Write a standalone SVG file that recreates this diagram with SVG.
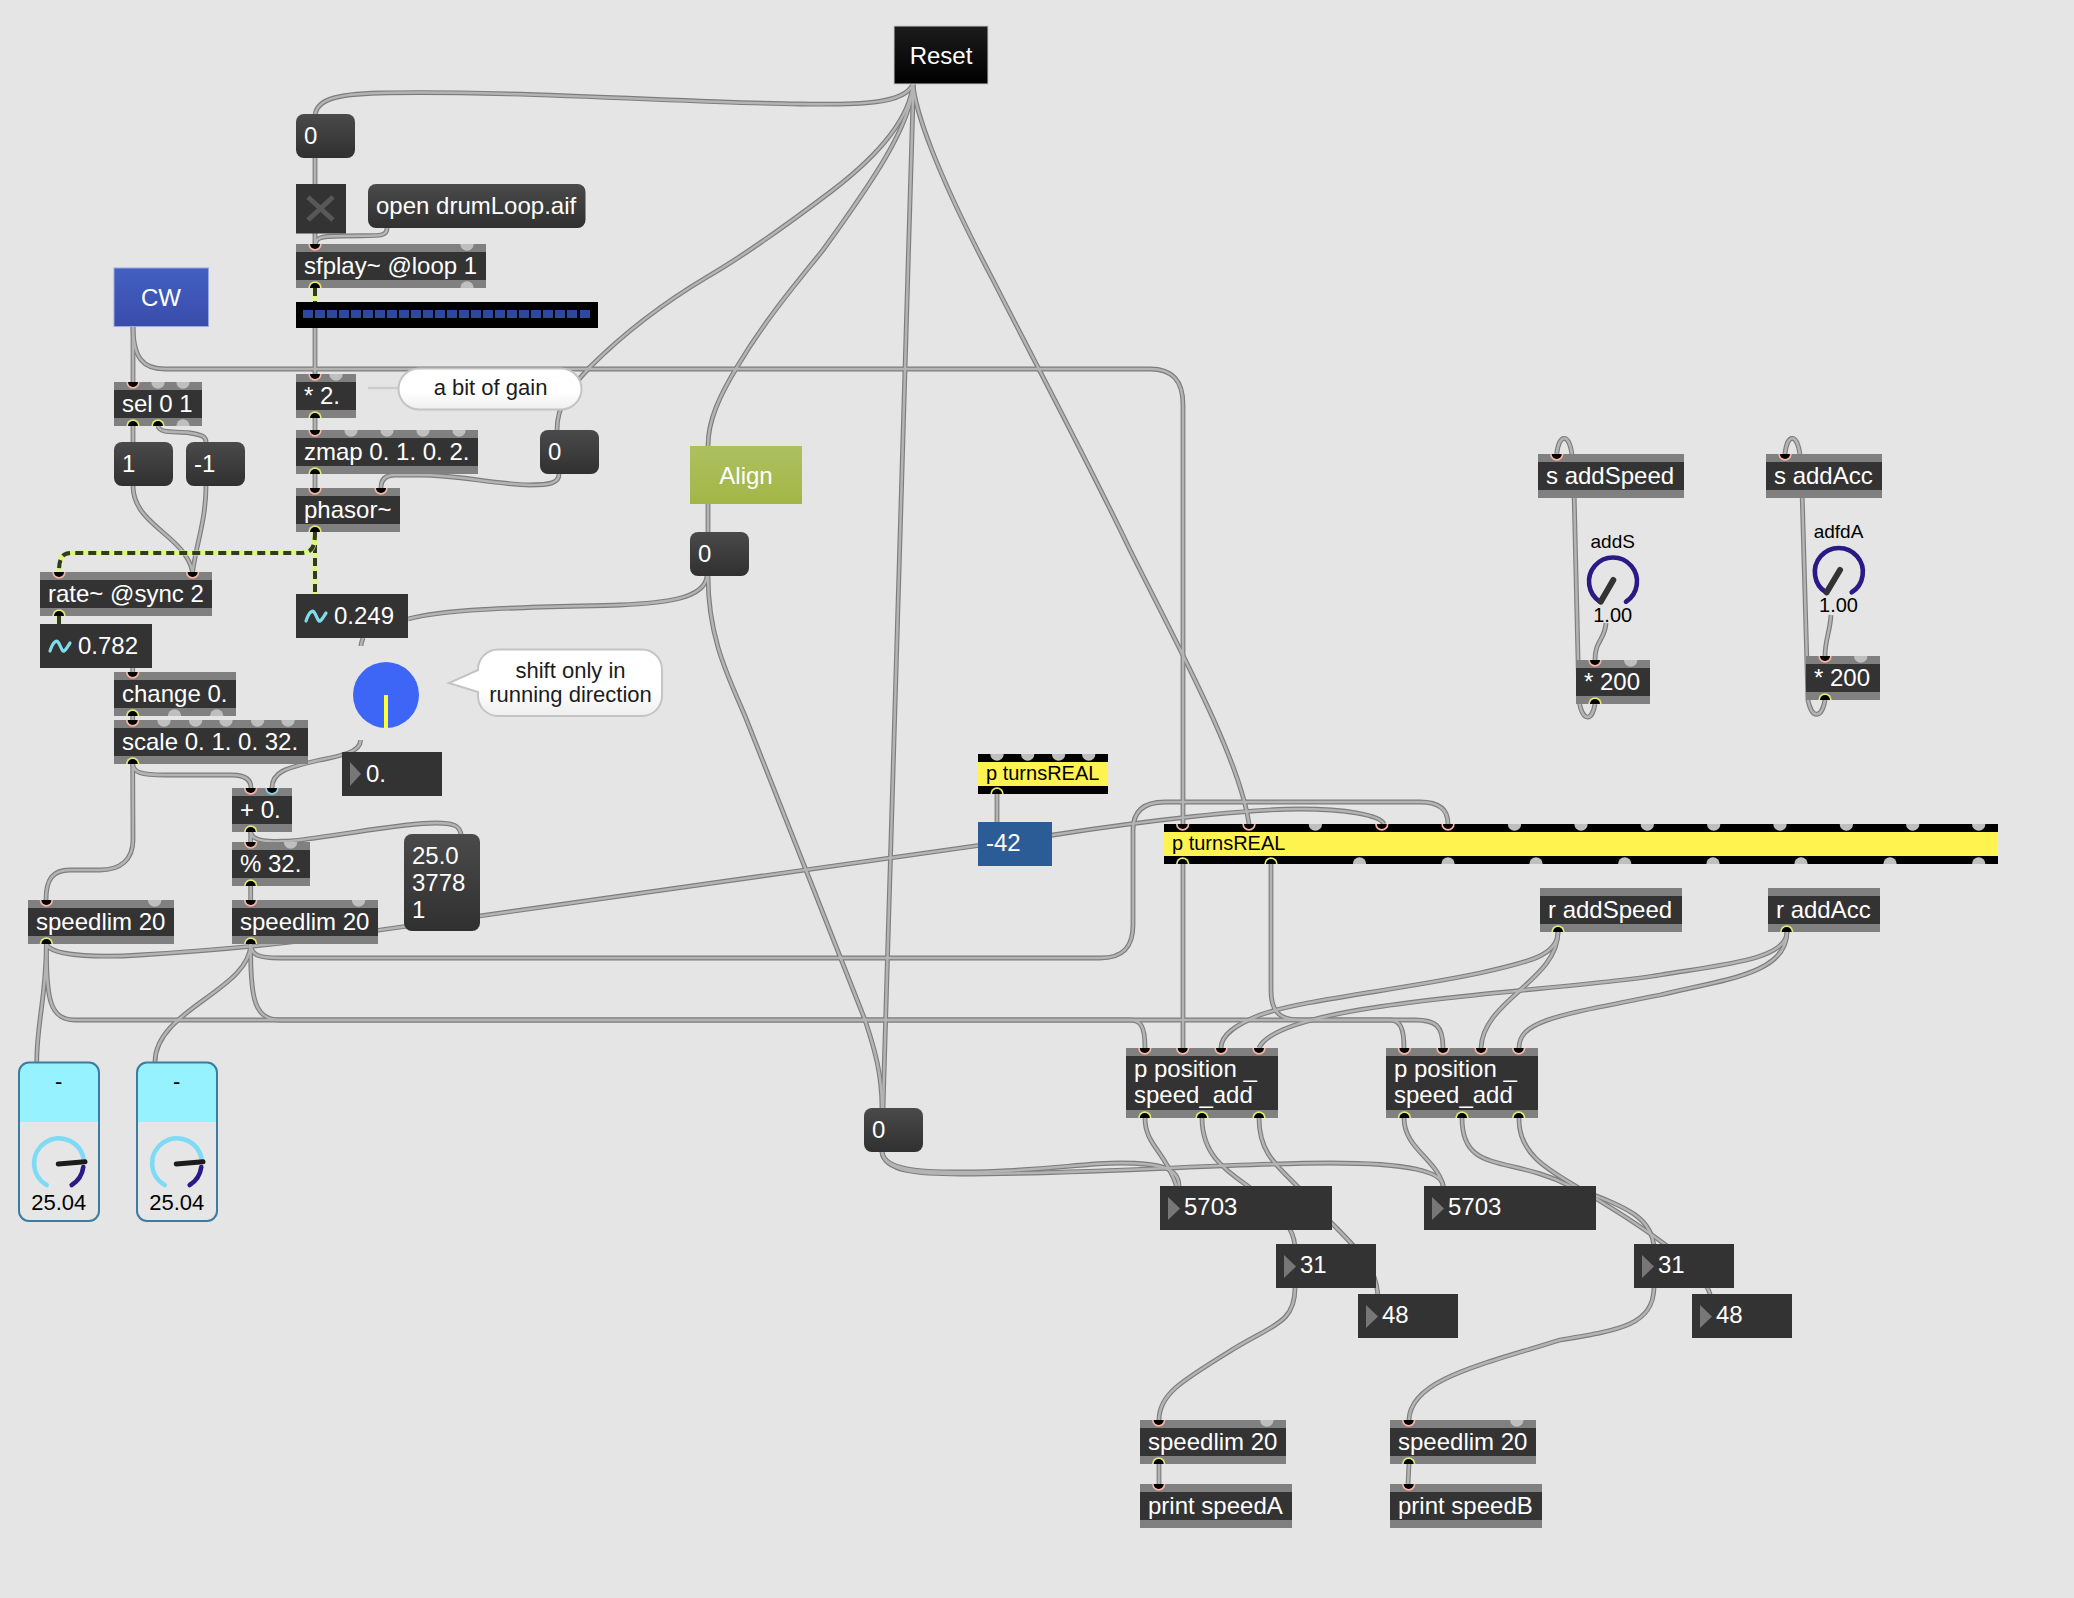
<svg xmlns="http://www.w3.org/2000/svg" xmlns:xlink="http://www.w3.org/1999/xlink" width="2074" height="1598" viewBox="0 0 2074 1598">
<style>
text{font-family:"Liberation Sans",Arial,sans-serif;font-size:24px;fill:#fff}
.bar{fill:#808080}.dk{fill:#333}.blk{fill:#000}.yl{fill:#fff44f}
.msg{fill:url(#gm)}
.cmt{fill:#1c1c1c;font-size:22px;text-anchor:middle}
.dl{fill:#000;font-size:19px;text-anchor:middle}
.mid{text-anchor:middle}
#connectors{fill:none;stroke:#7d7d7d;stroke-width:4.8;stroke-linecap:butt}
.ci{stroke:#b4b4b4;stroke-width:2.5}
.sy{fill:none;stroke:#dcf97e;stroke-width:5}
.sd{fill:none;stroke:#333a22;stroke-width:4;stroke-dasharray:8 5}
.tri{fill:#777}
.sine{fill:none;stroke:#7fdcea;stroke-width:3.2;stroke-linecap:round}
.arcD{fill:none;stroke:#2a1a85;stroke-width:4.6;stroke-linecap:round}
.arcL{fill:none;stroke:#7fdbf5;stroke-width:4.6;stroke-linecap:round}
.nd{fill:none;stroke:#1c1c1c;stroke-linecap:round}
.c{fill:url(#gc);stroke:#c4c4c4;stroke-width:2}
</style>
<defs>
<linearGradient id="gm" x1="0" y1="0" x2="0" y2="1"><stop offset="0" stop-color="#4a4a4a"/><stop offset="1" stop-color="#303030"/></linearGradient>
<linearGradient id="gc" x1="0" y1="0" x2="0" y2="1"><stop offset="0.6" stop-color="#fff"/><stop offset="1" stop-color="#eee"/></linearGradient>
<linearGradient id="gr" x1="0" y1="0" x2="0" y2="1"><stop offset="0" stop-color="#1c1c1c"/><stop offset="1" stop-color="#000"/></linearGradient>
<linearGradient id="gb" x1="0" y1="0" x2="0" y2="1"><stop offset="0" stop-color="#4260c2"/><stop offset="1" stop-color="#3a4cab"/></linearGradient>
<linearGradient id="ga" x1="0" y1="0" x2="0" y2="1"><stop offset="0" stop-color="#adc060"/><stop offset="1" stop-color="#a2b646"/></linearGradient>
<g id="i"><path d="M-6.700 0A6.700 6.700 0 0 0 6.700 0Z" fill="#f7b3a2"/><path d="M-5 0A5 5 0 0 0 5 0Z" fill="#000"/></g>
<g id="ib"><path d="M-6.700 0A6.700 6.700 0 0 0 6.700 0Z" fill="#8fd8ee"/><path d="M-5 0A5 5 0 0 0 5 0Z" fill="#000"/></g>
<g id="o"><path d="M-6.700 0A6.700 6.700 0 0 1 6.700 0Z" fill="#e4ea6e"/><path d="M-5 0A5 5 0 0 1 5 0Z" fill="#000"/></g>
<path id="ig" d="M-6.700 0A6.700 6.700 0 0 0 6.700 0Z" fill="#bfbfbf"/>
<path id="og" d="M-6.700 0A6.700 6.700 0 0 1 6.700 0Z" fill="#bfbfbf"/>
</defs>
<rect width="2074" height="1598" fill="#e5e5e5"/>

<g id="connectors">
<g id="cords">
<path d="M913 84C905 104 860 105 800 104C700 103 500 90 380 93C335 94 316 100 315 116"/>
<path d="M315 158L315 244"/>
<path d="M387 228C387 238 378 235 340 236C320 236 315 238 315 246"/>
<path d="M315 328L315 374"/>
<path d="M315 418L315 430"/>
<path d="M315 474L315 488"/>
<path d="M133 326L133 382"/>
<path d="M133 326C133 358 143 369 165 369L1150 369C1172 369 1183 380 1183 405L1183 1048"/>
<path d="M913 84C910 115 885 150 833 190C800 215 745 255 707 277C660 305 625 332 590 367C570 388 557 405 557 430"/>
<path d="M913 84C912 125 870 185 823 250C795 285 765 320 737 367C720 395 708 420 708 446"/>
<path d="M913 84L913 100C908 300 890 850 883 1108"/>
<path d="M913 84C915 110 935 170 993 280C1040 372 1087 460 1130 550C1180 650 1240 760 1249 824"/>
<path d="M708 504L708 532"/>
<path d="M707 576C705 600 660 603 620 605C560 607 450 607 408 619"/>
<path d="M708 576C708 640 730 680 745 716C770 780 830 930 865 1020C875 1050 882 1075 882 1108"/>
<path d="M882 1152C884 1170 920 1172 960 1172C1040 1172 1080 1163 1120 1163C1160 1163 1179 1168 1179 1186"/>
<path d="M882 1152C884 1172 920 1174 960 1174C1100 1174 1230 1163 1330 1163C1410 1163 1443 1172 1443 1186"/>
<path d="M1145 1118C1145 1145 1165 1150 1178 1190"/>
<path d="M1202 1118C1202 1170 1250 1180 1270 1205C1290 1225 1295 1235 1295 1250"/>
<path d="M1259 1118C1259 1160 1285 1170 1310 1200C1350 1245 1378 1260 1378 1300"/>
<path d="M1404 1118C1404 1150 1440 1160 1444 1190"/>
<path d="M1462 1118C1462 1175 1510 1155 1570 1186C1620 1205 1654 1215 1654 1250"/>
<path d="M1519 1118C1518 1160 1560 1175 1590 1195C1640 1225 1710 1270 1711 1300"/>
<path d="M1295 1288C1295 1325 1270 1325 1227 1353C1180 1382 1159 1395 1159 1420"/>
<path d="M1654 1288C1653 1325 1620 1330 1560 1340C1480 1365 1410 1380 1409 1420"/>
<path d="M1159 1464L1159 1484"/>
<path d="M1409 1464L1408 1484"/>
<path d="M1558 932C1558 955 1530 962 1480 973C1400 990 1300 1000 1260 1015C1235 1025 1221 1035 1221 1048"/>
<path d="M1558 932C1558 980 1483 1000 1481 1048"/>
<path d="M1787 932C1787 960 1720 965 1660 975C1560 992 1280 1000 1259 1048"/>
<path d="M1787 932C1787 975 1720 980 1660 995C1560 1015 1519 1020 1519 1048"/>
<path d="M1271 864L1271 990C1271 1010 1278 1020 1300 1020L1415 1020C1435 1020 1443 1025 1443 1048"/>
<path d="M46.400 944C46 1000 37 1020 36.700 1062"/>
<path d="M46.400 944C46 1000 50 1020 75 1020L1130 1020C1140 1020 1145 1025 1145 1048"/>
<path d="M46.400 944C52 958 110 957 140 955C220 950 300 943 380 930L1053 835C1150 820 1250 809 1300 809C1345 809 1380 815 1384 824"/>
<path d="M250.700 944C250 990 155 1010 155 1062"/>
<path d="M250.700 944C251 955 258 958 280 958L1100 958C1125 958 1133 945 1133 925L1133 830C1133 810 1145 802 1165 802L1420 802C1440 802 1448 810 1448 824"/>
<path d="M250.700 944C250 1000 255 1020 280 1020L1390 1020C1400 1020 1404 1028 1404 1048"/>
<path d="M132.700 764C133 772 140 775 165 775L232 775C246 775 251 780 251 788"/>
<path d="M132.700 764L133 840C133 860 120 870 100 870L70 870C52 870 46 880 46 900"/>
<path d="M250.700 832L250.700 842"/>
<path d="M250.700 886L250.700 900"/>
<path d="M250.700 832C252 842 270 842 290 841C340 836 400 823 436 823C452 823 461 825 461 836"/>
<path d="M133 426L133 442"/>
<path d="M158 426C160 434 175 431 190 433C203 435 206 437 206 442"/>
<path d="M133 486C133 525 185 535 192.600 572"/>
<path d="M206 486C206 520 196 545 192.600 572"/>
<path d="M132.700 668L132.700 672"/>
<path d="M132.700 716L132.700 720"/>
<path d="M559 474C559 483 550 485 530 485C490 484 460 475 420 475L395 475C385 475 381 480 381 488"/>
<path d="M363 638C362 642 361 642 361 646"/>
<path d="M360.500 740C361 752 340 756 320 760C285 768 272 772 272 788"/>
<path d="M1595 704C1592 722 1582 722 1579 700L1574 490L1572 455C1569 432 1559 434 1556.700 454"/>
<path d="M1825 700C1822 718 1812 720 1808 700L1802 490L1800 455C1797 432 1787 434 1785 454"/>
<path d="M1606 623C1605 640 1595 640 1595 660"/>
<path d="M1831 615C1830 632 1825 640 1825 656"/>
<path d="M997 794L997 822"/>
</g>
<use xlink:href="#cords" href="#cords" class="ci"/>
<g id="signal-cords" style="stroke:none">
<path class="sy" d="M315 288L315 302"/><path class="sd" d="M315 288L315 302"/>
<path class="sy" d="M315 532L315 594"/><path class="sd" d="M315 532L315 594"/>
<path class="sy" d="M315 532C315 548 312 553 300 553L72 553C62 553 59 558 59 572"/><path class="sd" d="M315 532C315 548 312 553 300 553L72 553C62 553 59 558 59 572"/>
<path class="sy" d="M59 616L59 624"/><path class="sd" d="M59 616L59 624"/>
</g>
</g>

<g id="reset"><rect x="894" y="26" width="94" height="58" fill="url(#gr)" stroke="#ccc" stroke-width="1"/><text class="mid" x="941" y="64">Reset</text></g>
<g id="msg0a"><rect class="msg" x="296" y="114" width="59" height="44" rx="8"/><text x="304" y="144">0</text></g>
<g id="toggle"><rect class="dk" x="296" y="184" width="50" height="49.500"/><path d="M308 197L333 220M333 197L308 220" stroke="#585858" stroke-width="5" fill="none"/></g>
<g id="open"><rect class="msg" x="368" y="184" width="217.500" height="44" rx="8"/><text x="376" y="214">open drumLoop.aif</text></g>
<g id="sfplay"><rect class="bar" x="296" y="244" width="190" height="44"/><rect class="dk" x="296" y="252" width="190" height="28"/><text x="304" y="274">sfplay~ @loop 1</text><use href="#i" x="315" y="244"/><use href="#ig" x="467" y="244"/><use href="#o" x="315" y="288"/><use href="#og" x="467" y="288"/></g>
<g id="meter"><rect class="blk" x="296" y="302" width="302" height="26"/><line x1="303" y1="314" x2="577" y2="314" stroke="#2b4a9f" stroke-width="8" stroke-dasharray="10 2"/><rect x="580" y="310" width="10" height="8" fill="#2b4a9f"/></g>
<g id="cw"><rect x="114" y="268" width="94.500" height="58.500" fill="url(#gb)" stroke="#9aa8dd" stroke-width="1"/><text class="mid" x="161" y="306">CW</text></g>
<g id="sel"><rect class="bar" x="114" y="382" width="88" height="44"/><rect class="dk" x="114" y="390" width="88" height="28"/><text x="122" y="412">sel 0 1</text><use href="#i" x="133" y="382"/><use href="#ig" x="158" y="382"/><use href="#ig" x="183" y="382"/><use href="#o" x="133" y="426"/><use href="#o" x="158" y="426"/><use href="#og" x="183" y="426"/></g>
<g id="mul2"><rect class="bar" x="296" y="374" width="60" height="44"/><rect class="dk" x="296" y="382" width="60" height="28"/><text x="304" y="404">* 2.</text><use href="#i" x="315" y="374"/><use href="#ig" x="336" y="374"/><use href="#o" x="315" y="418"/></g>
<g id="gain"><path d="M368 388L400 388" stroke="#ccc" stroke-width="2.500" fill="none"/><rect class="c" x="398.500" y="368.500" width="183" height="41" rx="20.500"/><text class="cmt" x="490.500" y="395">a bit of gain</text></g>
<g id="zmap"><rect class="bar" x="296" y="430" width="182" height="44"/><rect class="dk" x="296" y="438" width="182" height="28"/><text x="304" y="460">zmap 0. 1. 0. 2.</text><use href="#i" x="315" y="430"/><use href="#ig" x="351" y="430"/><use href="#ig" x="387" y="430"/><use href="#ig" x="423" y="430"/><use href="#ig" x="459" y="430"/><use href="#o" x="315" y="474"/></g>
<g id="msg0b"><rect class="msg" x="540" y="430" width="59" height="44" rx="8"/><text x="548" y="460">0</text></g>
<g id="phasor"><rect class="bar" x="296" y="488" width="104" height="44"/><rect class="dk" x="296" y="496" width="104" height="28"/><text x="304" y="518">phasor~</text><use href="#i" x="315" y="488"/><use href="#i" x="381" y="488"/><use href="#o" x="315" y="532"/></g>
<g id="msg1"><rect class="msg" x="114" y="442" width="59" height="44" rx="8"/><text x="122" y="472">1</text></g>
<g id="msgm1"><rect class="msg" x="186" y="442" width="59" height="44" rx="8"/><text x="194" y="472">-1</text></g>
<g id="rate"><rect class="bar" x="40" y="572" width="172" height="44"/><rect class="dk" x="40" y="580" width="172" height="28"/><text x="48" y="602">rate~ @sync 2</text><use href="#i" x="59" y="572"/><use href="#i" x="192.600" y="572"/><use href="#o" x="59" y="616"/></g>
<g id="align"><rect x="690" y="446" width="112" height="58" fill="url(#ga)"/><text class="mid" x="746" y="484">Align</text></g>
<g id="msg0c"><rect class="msg" x="690" y="532" width="59" height="44" rx="8"/><text x="698" y="562">0</text></g>
<g id="snap1"><rect class="dk" x="296" y="594" width="112" height="44"/><path class="sine" d="M306 621C309 612 312 610 314 612C317 616 318 622 320 621C322 620 324 616 326 613"/><text x="334" y="624">0.249</text></g>
<g id="snap2"><rect class="dk" x="40" y="624" width="112" height="44"/><path class="sine" d="M50 651C53 642 56 640 58 642C61 646 62 652 64 651C66 650 68 646 70 643"/><text x="78" y="654">0.782</text></g>
<g id="change"><rect class="bar" x="114" y="672" width="122" height="44"/><rect class="dk" x="114" y="680" width="122" height="28"/><text x="122" y="702">change 0.</text><use href="#i" x="132.700" y="672"/><use href="#o" x="132.700" y="716"/><use href="#og" x="174.500" y="716"/><use href="#og" x="216.700" y="716"/></g>
<g id="scale"><rect class="bar" x="114" y="720" width="194" height="44"/><rect class="dk" x="114" y="728" width="194" height="28"/><use href="#i" x="132.700" y="720"/><use href="#ig" x="164" y="720"/><use href="#ig" x="195.600" y="720"/><use href="#ig" x="226" y="720"/><use href="#ig" x="257.600" y="720"/><use href="#ig" x="288" y="720"/><use href="#o" x="132.700" y="764"/><text x="122" y="750">scale 0. 1. 0. 32.</text></g>
<g id="dial"><circle cx="386" cy="695" r="33" fill="#3d66f7"/><rect x="384" y="695" width="4" height="33" fill="#ffff33"/></g>
<g id="shift"><path class="c" d="M498 649.500L642 649.500A20 20 0 0 1 662 669.500L662 696A20 20 0 0 1 642 716L498 716A20 20 0 0 1 478 696L478 692L449 683L478 670L478 669.500A20 20 0 0 1 498 649.500Z"/><text class="cmt" x="570.500" y="677.500">shift only in</text><text class="cmt" x="570.500" y="702">running direction</text></g>
<g id="num0"><rect class="dk" x="342" y="752" width="100" height="44"/><path class="tri" d="M350 762L361 774L350 786Z"/><text x="366" y="782">0.</text></g>
<g id="plus"><rect class="bar" x="232" y="788" width="60" height="44"/><rect class="dk" x="232" y="796" width="60" height="28"/><text x="240" y="818">+ 0.</text><use href="#i" x="250.700" y="788"/><use href="#ib" x="272" y="788"/><use href="#o" x="250.700" y="832"/></g>
<g id="mod"><rect class="bar" x="232" y="842" width="78" height="44"/><rect class="dk" x="232" y="850" width="78" height="28"/><text x="240" y="872">% 32.</text><use href="#i" x="250.700" y="842"/><use href="#ig" x="290.600" y="842"/><use href="#o" x="250.700" y="886"/></g>
<g id="speedlimL"><rect class="bar" x="28" y="900" width="146" height="44"/><rect class="dk" x="28" y="908" width="146" height="28"/><text x="36" y="930">speedlim 20</text><use href="#i" x="46.400" y="900"/><use href="#ig" x="154.700" y="900"/><use href="#o" x="46.400" y="944"/></g>
<g id="speedlimR"><rect class="bar" x="232" y="900" width="146" height="44"/><rect class="dk" x="232" y="908" width="146" height="28"/><text x="240" y="930">speedlim 20</text><use href="#i" x="250.700" y="900"/><use href="#ig" x="358.600" y="900"/><use href="#o" x="250.700" y="944"/></g>
<g id="msg25"><rect class="msg" x="404" y="834" width="76" height="97" rx="8"/><text x="412" y="864">25.0</text><text x="412" y="890.500">3778</text><text x="412" y="918">1</text></g>

<g id="liveL"><rect x="19" y="1062.500" width="80" height="158.500" rx="10" fill="#e6e6e6"/><path d="M19 1122L19 1072.500A10 10 0 0 1 29 1063L89 1063A10 10 0 0 1 99 1072.500L99 1122Z" fill="#96f2ff"/><rect x="19" y="1062.500" width="80" height="158.500" rx="10" fill="none" stroke="#3c7ca0" stroke-width="2"/><text class="dl" x="58.700" y="1089" style="font-size:22px">-</text><path class="arcL" d="M46.700 1185A25 25 0 1 1 84 1161"/><path class="arcD" d="M83.300 1167A25 25 0 0 1 71.700 1185"/><path class="nd" stroke-width="5" d="M58.300 1164L85 1161.700"/><text class="dl" x="58.700" y="1210" style="font-size:22px">25.04</text></g>
<g id="liveR"><rect x="137" y="1062.500" width="80" height="158.500" rx="10" fill="#e6e6e6"/><path d="M137 1122L137 1072.500A10 10 0 0 1 147 1063L207 1063A10 10 0 0 1 217 1072.500L217 1122Z" fill="#96f2ff"/><rect x="137" y="1062.500" width="80" height="158.500" rx="10" fill="none" stroke="#3c7ca0" stroke-width="2"/><text class="dl" x="176.700" y="1089" style="font-size:22px">-</text><path class="arcL" d="M164.700 1185A25 25 0 1 1 202 1161"/><path class="arcD" d="M201.300 1167A25 25 0 0 1 189.700 1185"/><path class="nd" stroke-width="5" d="M176.300 1164L203 1161.700"/><text class="dl" x="176.700" y="1210" style="font-size:22px">25.04</text></g>

<g id="turnsSmall"><rect class="blk" x="978" y="754" width="130" height="40"/><rect class="yl" x="978" y="762" width="130" height="24"/><text x="986" y="780" style="fill:#000;font-size:20px">p turnsREAL</text><use href="#ig" x="997" y="754"/><use href="#ig" x="1027.700" y="754"/><use href="#ig" x="1058.600" y="754"/><use href="#ig" x="1088.700" y="754"/><use href="#o" x="997" y="794"/></g>
<g id="num42"><rect x="978" y="822" width="74" height="44" fill="#2c5c96"/><text x="986" y="851">-42</text></g>
<g id="turnsBig"><rect class="blk" x="1164" y="824" width="834" height="40"/><rect class="yl" x="1164" y="832" width="834" height="24"/><text x="1172" y="850" style="fill:#000;font-size:20px">p turnsREAL</text>
<use href="#i" x="1182.700" y="824"/><use href="#i" x="1249" y="824"/><use href="#ig" x="1315.400" y="824"/><use href="#i" x="1381.800" y="824"/><use href="#i" x="1448" y="824"/><use href="#ig" x="1514.500" y="824"/><use href="#ig" x="1581" y="824"/><use href="#ig" x="1647.300" y="824"/><use href="#ig" x="1713.700" y="824"/><use href="#ig" x="1780" y="824"/><use href="#ig" x="1846.400" y="824"/><use href="#ig" x="1912.700" y="824"/><use href="#ig" x="1978.700" y="824"/>
<use href="#o" x="1182.700" y="864"/><use href="#o" x="1271" y="864"/><use href="#og" x="1359.500" y="864"/><use href="#og" x="1448" y="864"/><use href="#og" x="1536" y="864"/><use href="#og" x="1624.700" y="864"/><use href="#og" x="1713" y="864"/><use href="#og" x="1801" y="864"/><use href="#og" x="1890" y="864"/><use href="#og" x="1978.700" y="864"/></g>

<g id="sAddSpeed"><rect class="bar" x="1538" y="454" width="146" height="44"/><rect class="dk" x="1538" y="462" width="146" height="28"/><text x="1546" y="484">s addSpeed</text><use href="#i" x="1556.700" y="454"/></g>
<g id="sAddAcc"><rect class="bar" x="1766" y="454" width="116" height="44"/><rect class="dk" x="1766" y="462" width="116" height="28"/><text x="1774" y="484">s addAcc</text><use href="#i" x="1785" y="454"/></g>
<g id="addS"><text class="dl" x="1612.700" y="548">addS</text><path class="arcD" d="M1600 601.700A24 24 0 1 1 1626 601.700"/><path class="nd" stroke-width="6" style="stroke:#333" d="M1613.300 580L1600.700 601.700"/><text class="dl" x="1612.700" y="622" style="font-size:20px">1.00</text></g>
<g id="adfdA"><text class="dl" x="1838.500" y="538">adfdA</text><path class="arcD" d="M1826 592.300A24 24 0 1 1 1851.700 592.300"/><path class="nd" stroke-width="6" style="stroke:#333" d="M1840 570L1826.700 592.300"/><text class="dl" x="1838.500" y="612" style="font-size:20px">1.00</text></g>
<g id="mul200L"><rect class="bar" x="1576" y="660" width="74" height="44"/><rect class="dk" x="1576" y="668" width="74" height="28"/><text x="1584" y="690">* 200</text><use href="#i" x="1595" y="660"/><use href="#ig" x="1630.700" y="660"/><use href="#o" x="1595" y="704"/></g>
<g id="mul200R"><rect class="bar" x="1806" y="656" width="74" height="44"/><rect class="dk" x="1806" y="664" width="74" height="28"/><text x="1814" y="686">* 200</text><use href="#i" x="1825" y="656"/><use href="#ig" x="1860.700" y="656"/><use href="#o" x="1825" y="700"/></g>
<g id="rAddSpeed"><rect class="bar" x="1540" y="888" width="142" height="44"/><rect class="dk" x="1540" y="896" width="142" height="28"/><text x="1548" y="918">r addSpeed</text><use href="#o" x="1558" y="932"/></g>
<g id="rAddAcc"><rect class="bar" x="1768" y="888" width="112" height="44"/><rect class="dk" x="1768" y="896" width="112" height="28"/><text x="1776" y="918">r addAcc</text><use href="#o" x="1786.700" y="932"/></g>

<g id="posL"><rect class="bar" x="1126" y="1048" width="152" height="70"/><rect class="dk" x="1126" y="1056" width="152" height="54"/><text x="1134" y="1077">p position _</text><text x="1134" y="1103">speed_add</text><use href="#i" x="1144.800" y="1048"/><use href="#i" x="1182.700" y="1048"/><use href="#i" x="1221" y="1048"/><use href="#i" x="1259" y="1048"/><use href="#o" x="1144.800" y="1118"/><use href="#o" x="1202" y="1118"/><use href="#o" x="1259" y="1118"/></g>
<g id="posR"><rect class="bar" x="1386" y="1048" width="152" height="70"/><rect class="dk" x="1386" y="1056" width="152" height="54"/><text x="1394" y="1077">p position _</text><text x="1394" y="1103">speed_add</text><use href="#i" x="1404.400" y="1048"/><use href="#i" x="1443" y="1048"/><use href="#i" x="1481" y="1048"/><use href="#i" x="1518.700" y="1048"/><use href="#o" x="1404.400" y="1118"/><use href="#o" x="1462" y="1118"/><use href="#o" x="1518.700" y="1118"/></g>
<g id="msg0d"><rect class="msg" x="864" y="1108" width="59" height="44" rx="8"/><text x="872" y="1138">0</text></g>
<g id="n5703L"><rect class="dk" x="1160" y="1186" width="172" height="44"/><path class="tri" d="M1168 1197L1180 1208.500L1168 1220Z"/><text x="1184" y="1215">5703</text></g>
<g id="n5703R"><rect class="dk" x="1424" y="1186" width="172" height="44"/><path class="tri" d="M1432 1197L1444 1208.500L1432 1220Z"/><text x="1448" y="1215">5703</text></g>
<g id="n31L"><rect class="dk" x="1276" y="1244" width="100" height="44"/><path class="tri" d="M1284 1255L1296 1266.500L1284 1278Z"/><text x="1300" y="1273">31</text></g>
<g id="n31R"><rect class="dk" x="1634" y="1244" width="100" height="44"/><path class="tri" d="M1642 1255L1654 1266.500L1642 1278Z"/><text x="1658" y="1273">31</text></g>
<g id="n48L"><rect class="dk" x="1358" y="1294" width="100" height="44"/><path class="tri" d="M1366 1305L1378 1316.500L1366 1328Z"/><text x="1382" y="1323">48</text></g>
<g id="n48R"><rect class="dk" x="1692" y="1294" width="100" height="44"/><path class="tri" d="M1700 1305L1712 1316.500L1700 1328Z"/><text x="1716" y="1323">48</text></g>
<g id="speedlimA"><rect class="bar" x="1140" y="1420" width="146" height="44"/><rect class="dk" x="1140" y="1428" width="146" height="28"/><text x="1148" y="1450">speedlim 20</text><use href="#i" x="1158.700" y="1420"/><use href="#ig" x="1266.800" y="1420"/><use href="#o" x="1158.700" y="1464"/></g>
<g id="speedlimB"><rect class="bar" x="1390" y="1420" width="146" height="44"/><rect class="dk" x="1390" y="1428" width="146" height="28"/><text x="1398" y="1450">speedlim 20</text><use href="#i" x="1408.700" y="1420"/><use href="#ig" x="1516.800" y="1420"/><use href="#o" x="1408.700" y="1464"/></g>
<g id="printA"><rect class="bar" x="1140" y="1484" width="152" height="44"/><rect class="dk" x="1140" y="1492" width="152" height="28"/><text x="1148" y="1514">print speedA</text><use href="#i" x="1158.700" y="1484"/></g>
<g id="printB"><rect class="bar" x="1390" y="1484" width="152" height="44"/><rect class="dk" x="1390" y="1492" width="152" height="28"/><text x="1398" y="1514">print speedB</text><use href="#i" x="1408.700" y="1484"/></g>
</svg>
